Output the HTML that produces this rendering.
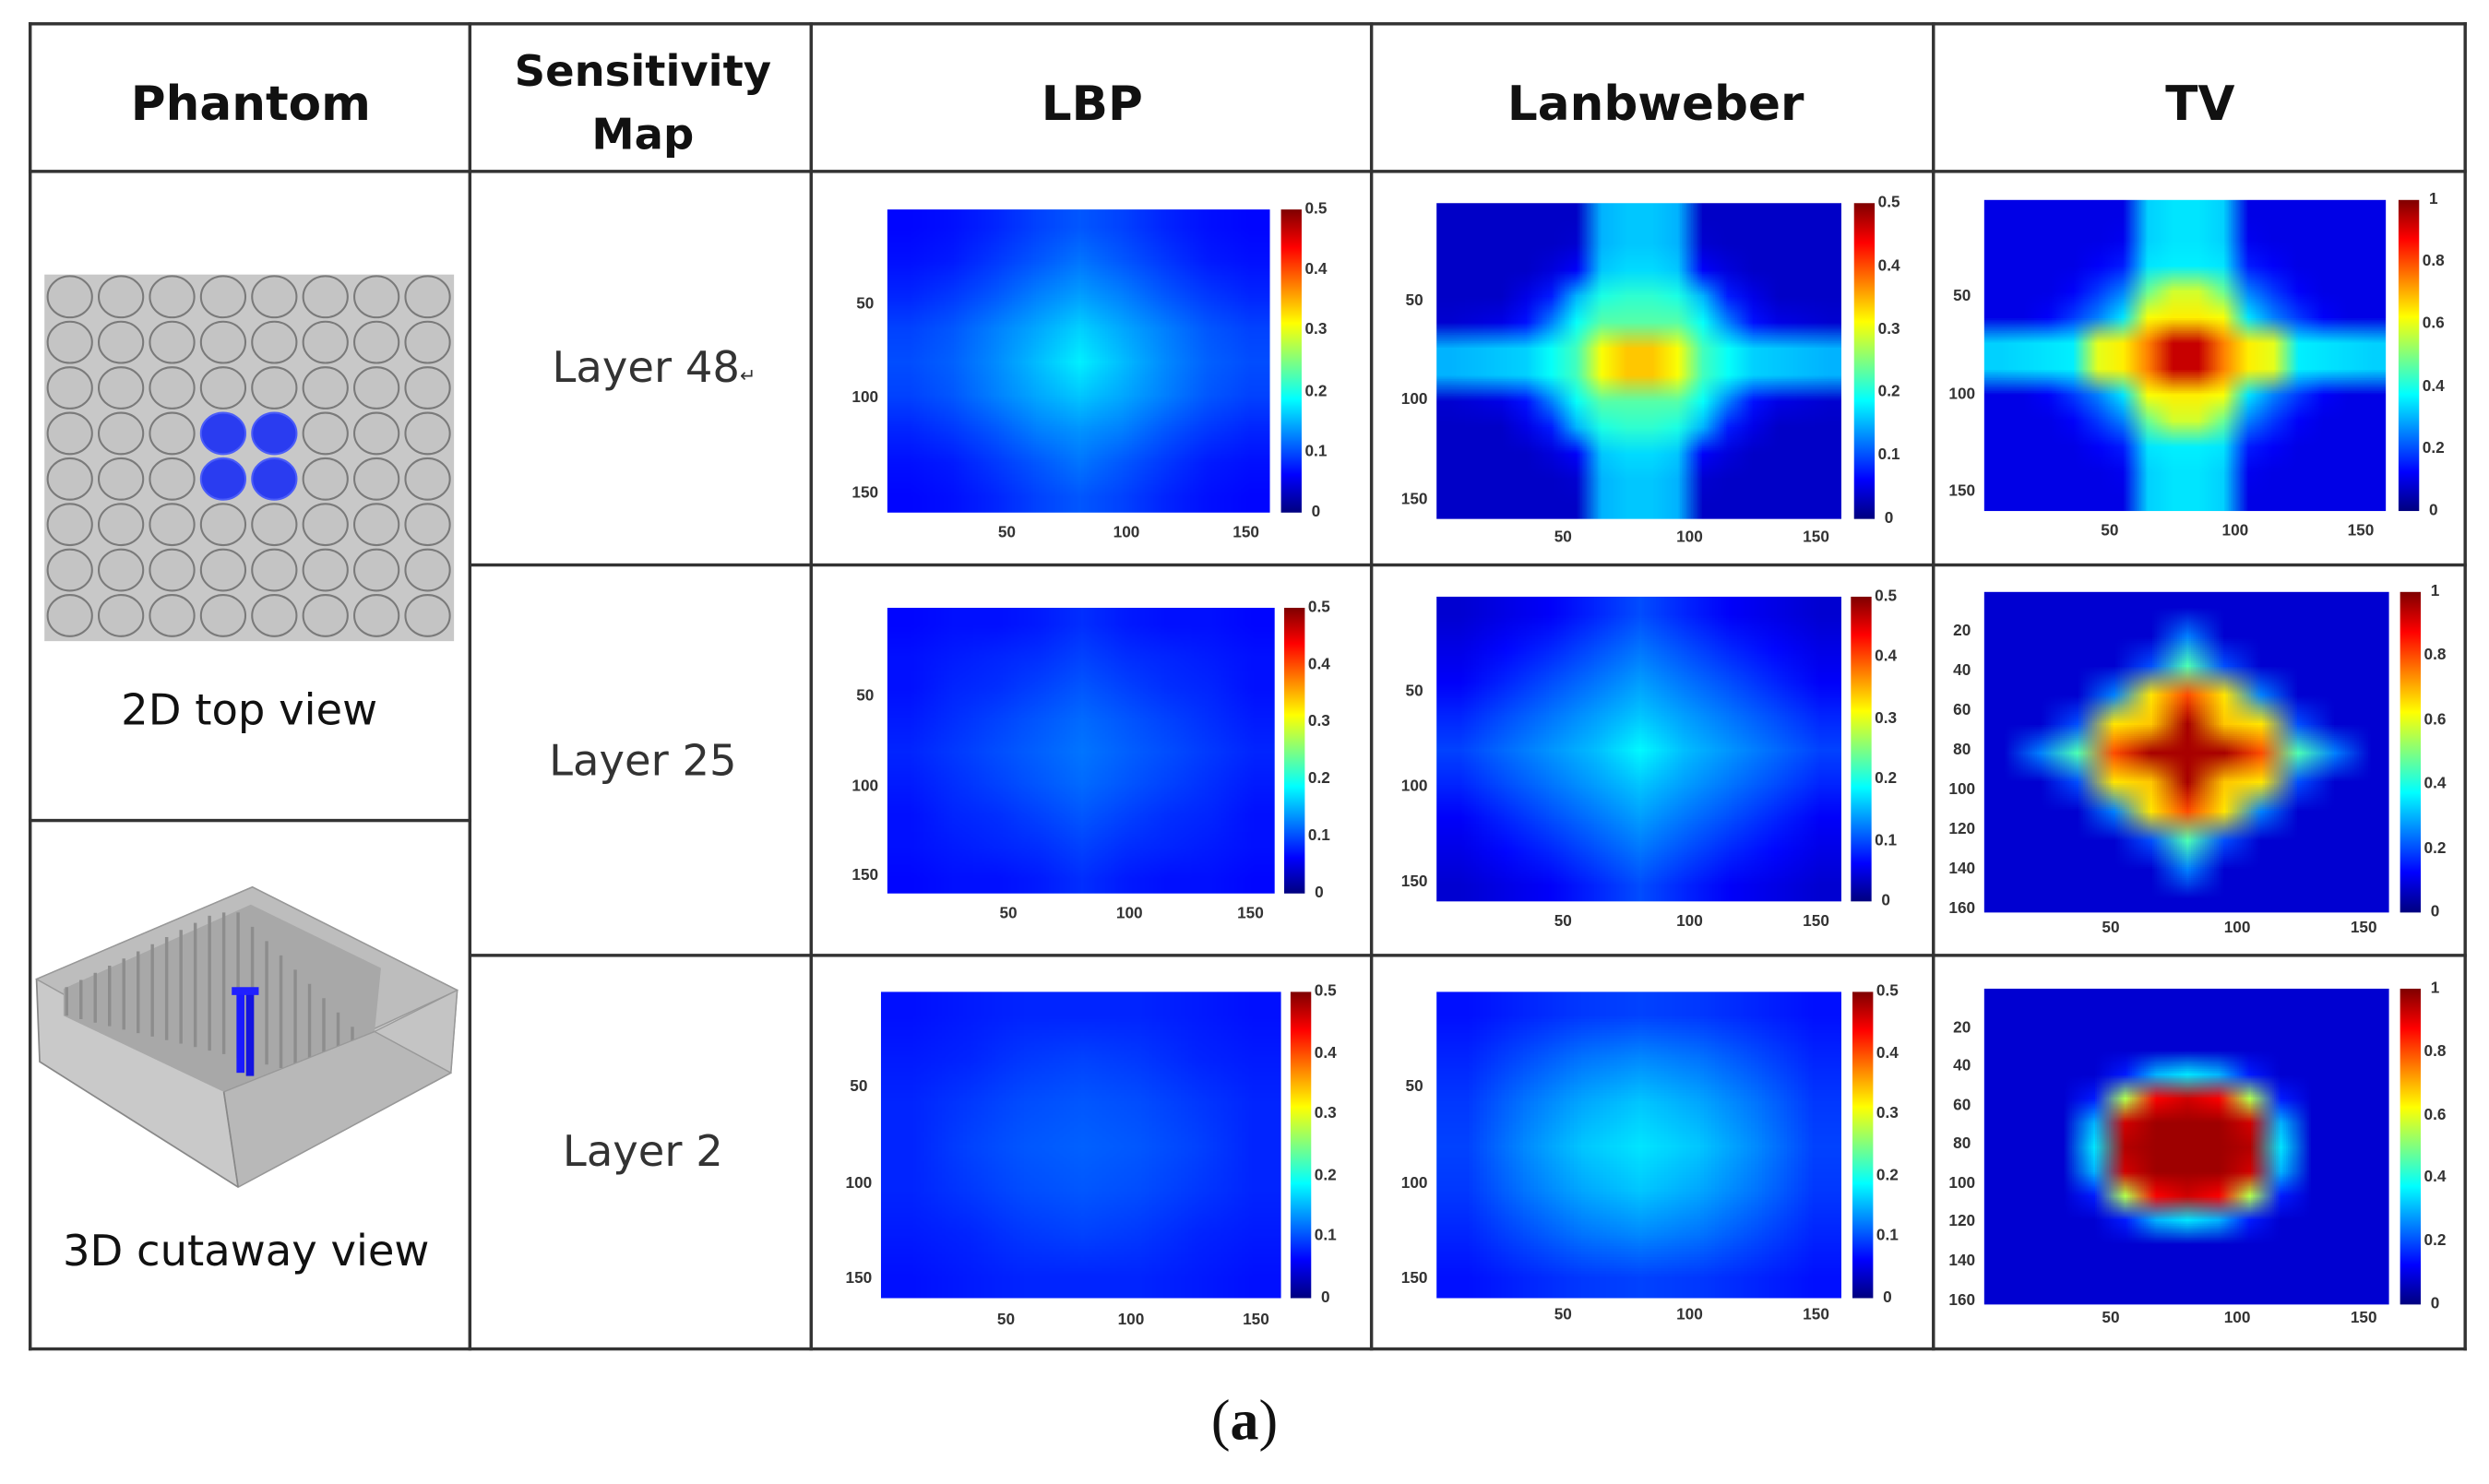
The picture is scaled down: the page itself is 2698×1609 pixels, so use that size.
<!DOCTYPE html>
<html><head><meta charset="utf-8">
<style>
html,body{margin:0;padding:0;background:#fff;}
body{width:2698px;height:1609px;overflow:hidden;}
#stage{position:absolute;left:0;top:0;width:1568px;height:935px;transform:scale(1.72066);transform-origin:0 0;font-family:"Liberation Sans",sans-serif;}
.ln{position:absolute;background:#333;}
.t{position:absolute;white-space:nowrap;transform:translate(-50%,-50%);color:#111;}
.hd{font-weight:bold;font-size:30px;font-family:"DejaVu Sans","Liberation Sans",sans-serif;}
.lay{font-size:27px;color:#333;font-family:"DejaVu Sans","Liberation Sans",sans-serif;}
.tk{position:absolute;font-size:10px;font-weight:bold;color:#333;white-space:nowrap;transform:translate(-50%,-50%);}
.cb{position:absolute;background:linear-gradient(to top,#00007f 0%,#0000ff 12.5%,#00ffff 37.5%,#ffff00 62.5%,#ff0000 87.5%,#7f0000 100%);}
canvas.hm{position:absolute;}
</style></head><body>
<div id="stage">
<div class="ln" style="left:18px;top:14px;width:1536px;height:2px"></div>
<div class="ln" style="left:18px;top:849px;width:1536px;height:2px"></div>
<div class="ln" style="left:18px;top:14px;width:2px;height:837px"></div>
<div class="ln" style="left:1552px;top:14px;width:2px;height:837px"></div>
<div class="ln" style="left:18px;top:107px;width:1536px;height:2px"></div>
<div class="ln" style="left:296px;top:355px;width:1258px;height:2px"></div>
<div class="ln" style="left:296px;top:601px;width:1258px;height:2px"></div>
<div class="ln" style="left:18px;top:516px;width:279px;height:2px"></div>
<div class="ln" style="left:295px;top:14px;width:2px;height:837px"></div>
<div class="ln" style="left:510px;top:14px;width:2px;height:837px"></div>
<div class="ln" style="left:863px;top:14px;width:2px;height:837px"></div>
<div class="ln" style="left:1217px;top:14px;width:2px;height:837px"></div>

<div class="t hd" style="left:158px;top:66px">Phantom</div>
<div class="t hd" style="left:405px;top:66px;font-size:27px;text-align:center;line-height:40px">Sensitivity<br>Map</div>
<div class="t hd" style="left:688px;top:66px">LBP</div>
<div class="t hd" style="left:1043px;top:66px">Lanbweber</div>
<div class="t hd" style="left:1386px;top:66px">TV</div>

<div class="t lay" style="left:412px;top:232px">Layer 48<span style="font-size:12px">↵</span></div>
<div class="t lay" style="left:405px;top:480px">Layer 25</div>
<div class="t lay" style="left:405px;top:726px">Layer 2</div>
<div class="t lay" style="left:157px;top:448px;color:#111">2D top view</div>
<div class="t lay" style="left:155px;top:789px;color:#111">3D cutaway view</div>
<div class="t" style="left:784px;top:895px;font-family:'Liberation Serif',serif;font-size:36px">(<b>a</b>)</div>

<svg style="position:absolute;left:0;top:0" width="1568" height="935">
<rect x="28" y="173" width="258" height="231" fill="#c8c8c8"/>
<g id="circles"></g>
<g>
<polygon points="23,617 159,559 288,624 284,676 150,748 25,669" fill="#c9c9c9" stroke="#888" stroke-width="1"/>
<polygon points="23,617 159,559 288,624 150,688" fill="#bdbdbd" stroke="#999" stroke-width="0.8"/>
<polygon points="40,623 158,570 240,610 236,650 141,688 40,640" fill="#a8a8a8"/>
<g id="rods"></g>
<polygon points="141,688 236,650 284,676 150,748" fill="#b8b8b8" stroke="#999" stroke-width="0.8"/>
<polygon points="236,650 288,624 284,676" fill="#c4c4c4" stroke="#999" stroke-width="0.8"/>
<line x1="141" y1="688" x2="150" y2="748" stroke="#888"/>
<rect x="149" y="624" width="5" height="52" fill="#1a1aff"/>
<rect x="155" y="626" width="5" height="52" fill="#1414e0"/>
<rect x="146" y="622" width="17" height="5" fill="#2020ff"/>
</g>
</svg>
<div id="panels"></div>
</div>
<script>
// ---- heatmap data (fraction of colorbar max) ----
const lbp48=[
[.13,.14,.16,.19,.21,.19,.16,.14,.13],
[.14,.15,.18,.21,.24,.21,.18,.15,.14],
[.16,.18,.21,.25,.28,.25,.21,.18,.16],
[.19,.21,.25,.29,.33,.29,.25,.21,.19],
[.20,.22,.26,.31,.36,.31,.26,.22,.20],
[.19,.21,.25,.29,.32,.29,.25,.21,.19],
[.16,.18,.21,.25,.27,.25,.21,.18,.16],
[.14,.15,.18,.21,.24,.21,.18,.15,.14],
[.13,.14,.16,.19,.21,.19,.16,.14,.13]];
const lanb48=[
[.07,.07,.07,.07,.07,.07,.30,.32,.32,.30,.07,.07,.07,.07,.07,.07],
[.07,.07,.07,.07,.07,.08,.30,.32,.32,.30,.08,.07,.07,.07,.07,.07],
[.07,.07,.07,.07,.09,.12,.32,.34,.34,.32,.12,.09,.07,.07,.07,.07],
[.07,.07,.07,.10,.15,.30,.40,.42,.42,.40,.30,.15,.10,.07,.07,.07],
[.08,.09,.10,.14,.25,.38,.46,.46,.46,.46,.38,.25,.14,.10,.09,.08],
[.30,.31,.32,.33,.38,.44,.62,.68,.68,.62,.44,.38,.33,.32,.31,.30],
[.30,.31,.32,.33,.38,.44,.62,.68,.68,.62,.44,.38,.33,.32,.31,.30],
[.08,.09,.10,.14,.25,.38,.46,.46,.46,.46,.38,.25,.14,.10,.09,.08],
[.07,.07,.07,.10,.15,.30,.40,.42,.42,.40,.30,.15,.10,.07,.07,.07],
[.07,.07,.07,.07,.09,.12,.32,.34,.34,.32,.12,.09,.07,.07,.07,.07],
[.07,.07,.07,.07,.07,.08,.30,.32,.32,.30,.08,.07,.07,.07,.07,.07],
[.07,.07,.07,.07,.07,.07,.30,.32,.32,.30,.07,.07,.07,.07,.07,.07]];
const tv48=[
[.10,.10,.10,.10,.10,.10,.33,.35,.35,.33,.10,.10,.10,.10,.10,.10],
[.10,.10,.10,.10,.10,.11,.33,.35,.35,.33,.11,.10,.10,.10,.10,.10],
[.10,.10,.10,.10,.12,.15,.35,.36,.36,.35,.15,.12,.10,.10,.10,.10],
[.10,.10,.10,.12,.18,.25,.48,.58,.58,.48,.25,.18,.12,.10,.10,.10],
[.10,.10,.12,.18,.25,.35,.62,.64,.64,.62,.35,.25,.18,.12,.10,.10],
[.33,.34,.35,.36,.60,.64,.75,.93,.93,.75,.64,.60,.36,.35,.34,.33],
[.33,.34,.35,.36,.60,.64,.75,.93,.93,.75,.64,.60,.36,.35,.34,.33],
[.10,.10,.12,.18,.25,.35,.62,.64,.64,.62,.35,.25,.18,.12,.10,.10],
[.10,.10,.10,.12,.18,.25,.48,.58,.58,.48,.25,.18,.12,.10,.10,.10],
[.10,.10,.10,.10,.12,.15,.35,.36,.36,.35,.15,.12,.10,.10,.10,.10],
[.10,.10,.10,.10,.10,.11,.33,.35,.35,.33,.11,.10,.10,.10,.10,.10],
[.10,.10,.10,.10,.10,.10,.33,.35,.35,.33,.10,.10,.10,.10,.10,.10]];
const lbp25=[
[.13,.14,.14,.15,.17,.15,.14,.14,.13],
[.14,.15,.16,.17,.19,.17,.16,.15,.14],
[.14,.16,.17,.19,.21,.19,.17,.16,.14],
[.15,.17,.19,.21,.23,.21,.19,.17,.15],
[.16,.18,.20,.22,.24,.22,.20,.18,.16],
[.15,.17,.19,.21,.23,.21,.19,.17,.15],
[.14,.16,.17,.19,.21,.19,.17,.16,.14],
[.14,.15,.16,.17,.19,.17,.16,.15,.14],
[.13,.14,.14,.15,.17,.15,.14,.14,.13]];
const lanb25=[
[.08,.10,.12,.16,.20,.16,.12,.10,.08],
[.10,.13,.16,.20,.24,.20,.16,.13,.10],
[.12,.16,.20,.24,.28,.24,.20,.16,.12],
[.16,.20,.24,.28,.32,.28,.24,.20,.16],
[.19,.23,.27,.31,.37,.31,.27,.23,.19],
[.16,.20,.24,.28,.32,.28,.24,.20,.16],
[.12,.16,.20,.24,.28,.24,.20,.16,.12],
[.10,.13,.16,.20,.24,.20,.16,.13,.10],
[.08,.10,.12,.16,.20,.16,.12,.10,.08]];
const tv25=[
[.08,.08,.08,.08,.08,.08,.08,.08,.08,.08,.08],
[.08,.08,.08,.08,.08,.25,.08,.08,.08,.08,.08],
[.08,.08,.08,.08,.20,.45,.20,.08,.08,.08,.08],
[.08,.08,.08,.25,.65,.80,.65,.25,.08,.08,.08],
[.08,.08,.20,.65,.68,.96,.68,.65,.20,.08,.08],
[.08,.25,.45,.80,.96,.96,.96,.80,.45,.25,.08],
[.08,.08,.20,.65,.68,.96,.68,.65,.20,.08,.08],
[.08,.08,.08,.25,.65,.80,.65,.25,.08,.08,.08],
[.08,.08,.08,.08,.20,.45,.20,.08,.08,.08,.08],
[.08,.08,.08,.08,.08,.25,.08,.08,.08,.08,.08],
[.08,.08,.08,.08,.08,.08,.08,.08,.08,.08,.08]];
const lbp2=[
[.14,.15,.16,.16,.16,.15,.14],
[.15,.16,.18,.19,.18,.16,.15],
[.16,.18,.20,.21,.20,.18,.16],
[.16,.19,.21,.22,.21,.19,.16],
[.16,.18,.20,.21,.20,.18,.16],
[.15,.16,.18,.19,.18,.16,.15],
[.14,.15,.16,.16,.16,.15,.14]];
const lanb2=[
[.14,.16,.18,.19,.18,.16,.14],
[.16,.20,.24,.26,.24,.20,.16],
[.18,.24,.29,.32,.29,.24,.18],
[.19,.26,.32,.35,.32,.26,.19],
[.18,.24,.29,.32,.29,.24,.18],
[.16,.20,.24,.26,.24,.20,.16],
[.14,.16,.18,.19,.18,.16,.14]];
const tv2=[
[.08,.08,.08,.08,.08,.08,.08,.08,.08,.08,.08,.08,.08],
[.08,.08,.08,.08,.08,.08,.08,.08,.08,.08,.08,.08,.08],
[.08,.08,.08,.08,.08,.08,.08,.08,.08,.08,.08,.08,.08],
[.08,.08,.08,.08,.15,.30,.35,.30,.15,.08,.08,.08,.08],
[.08,.08,.08,.15,.55,.88,.92,.88,.55,.15,.08,.08,.08],
[.08,.08,.08,.30,.92,.97,.97,.97,.92,.30,.08,.08,.08],
[.08,.08,.08,.35,.95,.97,.97,.97,.95,.35,.08,.08,.08],
[.08,.08,.08,.30,.92,.97,.97,.97,.92,.30,.08,.08,.08],
[.08,.08,.08,.15,.55,.88,.92,.88,.55,.15,.08,.08,.08],
[.08,.08,.08,.08,.15,.30,.35,.30,.15,.08,.08,.08,.08],
[.08,.08,.08,.08,.08,.08,.08,.08,.08,.08,.08,.08,.08],
[.08,.08,.08,.08,.08,.08,.08,.08,.08,.08,.08,.08,.08],
[.08,.08,.08,.08,.08,.08,.08,.08,.08,.08,.08,.08,.08]];
const cbTicksHalf=["0.5","0.4","0.3","0.2","0.1","0"];
const cbTicksOne=["1","0.8","0.6","0.4","0.2","0"];
const xTicks=[50,100,150];
const yTicks3=[50,100,150];
const yTicks8=[20,40,60,80,100,120,140,160];

function jet(v){v=Math.max(0,Math.min(1,v));
 const f=t=>Math.max(0,Math.min(1,t));
 return [f(1.5-Math.abs(4*v-3)),f(1.5-Math.abs(4*v-2)),f(1.5-Math.abs(4*v-1))].map(c=>Math.round(c*255));}

const root=document.getElementById('panels');
function panel(name,data,x0,y0,x1,y1,cbx,cbTicks,yTicks,yMax,xLabY){
 const rows=data.length, cols=data[0].length;
 const c=document.createElement('canvas');
 c.width=cols;c.height=rows;c.className='hm';
 c.style.left=x0+'px';c.style.top=y0+'px';c.style.width=(x1-x0)+'px';c.style.height=(y1-y0)+'px';
 
 
 const ctx=c.getContext('2d');
 data.forEach((row,r)=>row.forEach((v,k)=>{const [R,G,B]=jet(v);ctx.fillStyle=`rgb(${R},${G},${B})`;ctx.fillRect(k,r,1,1);}));
 root.appendChild(c);
 const cb=document.createElement('div');cb.className='cb';
 cb.style.left=cbx+'px';cb.style.top=y0+'px';cb.style.width='13px';cb.style.height=(y1-y0)+'px';
 
 
 root.appendChild(cb);
 cbTicks.forEach((t,i)=>{const d=document.createElement('div');d.className='tk';d.textContent=t;
  d.style.left=(cbx+22)+'px';d.style.top=(y0+(y1-y0)*i/(cbTicks.length-1))+'px';
  
  
  root.appendChild(d);});
 const xs=v=>x0+(x1-x0)*v/160;
 xTicks.forEach(t=>{const d=document.createElement('div');d.className='tk';d.textContent=t;
  d.style.left=xs(t)+'px';d.style.top=xLabY+'px';
  
  
  root.appendChild(d);});
 const ys=v=>y0+(y1-y0)*v/yMax;
 yTicks.forEach(t=>{const d=document.createElement('div');d.className='tk';d.textContent=t;
  d.style.left=(x0-14)+'px';d.style.top=ys(t)+'px';
  
  
  root.appendChild(d);});
}
panel('lbp-layer48',lbp48,559,132,800,323,807,cbTicksHalf,yTicks3,160,336);
panel('lanbweber-layer48',lanb48,905,128,1160,327,1168,cbTicksHalf,yTicks3,160,339);
panel('tv-layer48',tv48,1250,126,1503,322,1511,cbTicksOne,yTicks3,160,335);
panel('lbp-layer25',lbp25,559,383,803,563,809,cbTicksHalf,yTicks3,160,576);
panel('lanbweber-layer25',lanb25,905,376,1160,568,1166,cbTicksHalf,yTicks3,160,581);
panel('tv-layer25',tv25,1250,373,1505,575,1512,cbTicksOne,yTicks8,162,585);
panel('lbp-layer2',lbp2,555,625,807,818,813,cbTicksHalf,yTicks3,160,832);
panel('lanbweber-layer2',lanb2,905,625,1160,818,1167,cbTicksHalf,yTicks3,160,829);
panel('tv-layer2',tv2,1250,623,1505,822,1512,cbTicksOne,yTicks8,162,831);

// phantom 2D circles
const g=document.getElementById('circles');const NS='http://www.w3.org/2000/svg';
for(let r=0;r<8;r++)for(let k=0;k<8;k++){
 const e=document.createElementNS(NS,'ellipse');
 const blue=(r===3||r===4)&&(k===3||k===4);
 e.setAttribute('cx',44+k*32.2);e.setAttribute('cy',187+r*28.7);
 e.setAttribute('rx',14);e.setAttribute('ry',13);
 e.setAttribute('fill',blue?'#2a3cf0':'#c4c4c4');e.setAttribute('stroke',blue?'#4a5cf8':'#7a7a7a');e.setAttribute('stroke-width',1.2);
 
 
 g.appendChild(e);}
// rods for 3D
const rd=document.getElementById('rods');
for(let i=0;i<22;i++){
 const l=document.createElementNS(NS,'line');
 const x=42+i*9;
 l.setAttribute('x1',x);l.setAttribute('x2',x);
 l.setAttribute('y1',Math.max(575,622-i*4.5)+(i>12?(i-12)*9:0));l.setAttribute('y2',Math.min(690,640+i*2.2));
 l.setAttribute('stroke','#8d8d8d');l.setAttribute('stroke-width',2);
 
 
 rd.appendChild(l);}
</script>
</body></html>
